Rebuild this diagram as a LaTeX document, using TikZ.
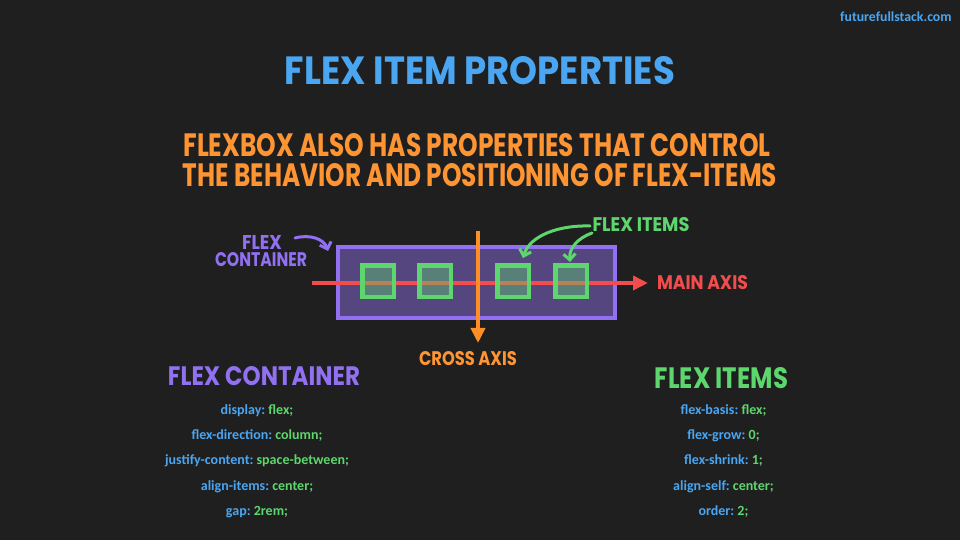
\documentclass[tikz,border=0pt]{standalone}
\usepackage{fontspec}
\usepackage{graphicx}
\usetikzlibrary{arrows.meta}
\newfontfamily\handfont{Poppins}
\newfontfamily\codefont{Carlito}
\definecolor{bg}{HTML}{1F1F1F}
\definecolor{tblue}{HTML}{4AA6F2}
\definecolor{torange}{HTML}{FF9432}
\definecolor{tpurple}{HTML}{9270F2}
\definecolor{cfill}{HTML}{55467F}
\definecolor{tgreen}{HTML}{5ED66E}
\definecolor{tred}{HTML}{F24C4C}
\definecolor{axorange}{HTML}{FF8E26}
% \fitto{width px}{height px}{text}
\newcommand{\fitto}[3]{\resizebox{#1\dimexpr0.5pt\relax}{#2\dimexpr0.5pt\relax}{\handfont\bfseries #3}}
\newcommand{\prop}[2]{{\color{tblue}#1}~{\color{tgreen}#2}}
\tikzset{
  hand/.style={inner sep=0pt, outer sep=0pt},
  container/.style={draw=tpurple, fill=cfill, line width=2.25pt, minimum width=138.5pt, minimum height=35.5pt, inner sep=0pt},
  itembox/.style={draw=tgreen, fill=tgreen, fill opacity=0.4, draw opacity=1, line width=2.25pt, minimum size=15.75pt, inner sep=0pt},
  mainaxis/.style={draw=tred, line width=2pt, -{Triangle[length=7.5pt,width=7pt]}},
  crossaxis/.style={draw=axorange, line width=2pt, -{Triangle[length=7.5pt,width=7pt]}},
  pointer/.style={line width=1.5pt, line cap=round, -{Straight Barb[length=3pt,width=6pt]}},
  codeline/.style={inner sep=0pt, font=\codefont\bfseries\fontsize{7pt}{8pt}\selectfont},
}
\begin{document}
\begin{tikzpicture}[x=0.5pt,y=-0.5pt]
\useasboundingbox (0,0) rectangle (960,540);
\fill[bg] (0,0) rectangle (960,540);

% site
\node[codeline, font=\codefont\bfseries\fontsize{6.9pt}{8pt}\selectfont, text=tblue, anchor=east] (site) at (952,17) {futurefullstack.com};

% titles
\node[hand, text=tblue] (title) at (480,71) {\fitto{390}{28}{FLEX ITEM PROPERTIES}};
\node[hand, text=torange] (sub1) at (477,145) {\fitto{587}{23}{FLEXBOX ALSO HAS PROPERTIES THAT CONTROL}};
\node[hand, text=torange] (sub2) at (480,175.5) {\fitto{594}{23}{THE BEHAVIOR AND POSITIONING OF FLEX-ITEMS}};

% diagram
\node[container] (box) at (476.5,282.5) {};
\coordinate (mainstart) at (312,283);
\coordinate (mainend) at (648,283);
\draw[mainaxis] (mainstart) -- (mainend);
\coordinate (crossstart) at (478,231);
\coordinate (crossend) at (478,343);
\draw[crossaxis] (crossstart) -- (crossend);
\node[itembox] (i1) at (378,281.3) {};
\node[itembox] (i2) at (435,281.3) {};
\node[itembox] (i3) at (513,281.3) {};
\node[itembox] (i4) at (571,281.3) {};

% labels
\node[hand, text=tpurple] (lflex) at (262,242) {\fitto{40}{14}{FLEX}};
\node[hand, text=tpurple] (lcont) at (261,260) {\fitto{92}{14}{CONTAINER}};
\node[hand, text=tgreen] (litems) at (641,225) {\fitto{97}{14}{FLEX ITEMS}};
\node[hand, text=tred] (lmain) at (702.5,283) {\fitto{91}{14}{MAIN AXIS}};
\node[hand, text=torange] (lcross) at (468,359) {\fitto{98}{14}{CROSS AXIS}};

\coordinate (ptc) at (328,251);
\draw[pointer, tpurple] (295,238) .. controls (310,234) and (324,239) .. (ptc);
\coordinate (pt3) at (523,258);
\draw[pointer, tgreen] (590,226) .. controls (560,225) and (530,235) .. (pt3);
\coordinate (pt4) at (570,262);
\draw[pointer, tgreen] (592,233) .. controls (578,238) and (569,248) .. (pt4);

% headings
\node[hand, text=tpurple] (hcont) at (264,376) {\fitto{192}{19}{FLEX CONTAINER}};
\node[hand, text=tgreen] (hitems) at (721.5,378.5) {\fitto{133}{21}{FLEX ITEMS}};

% code left
\node[codeline] (c1) at (257,411) {\prop{display:}{flex;}};
\node[codeline] (c2) at (257,436) {\prop{flex-direction:}{column;}};
\node[codeline] (c3) at (257,461) {\prop{justify-content:}{space-between;}};
\node[codeline] (c4) at (257,487) {\prop{align-items:}{center;}};
\node[codeline] (c5) at (257,512) {\prop{gap:}{2rem;}};

% code right
\node[codeline] (d1) at (723.5,411) {\prop{flex-basis:}{flex;}};
\node[codeline] (d2) at (723.5,436) {\prop{flex-grow:}{0;}};
\node[codeline] (d3) at (723.5,461) {\prop{flex-shrink:}{1;}};
\node[codeline] (d4) at (723.5,487) {\prop{align-self:}{center;}};
\node[codeline] (d5) at (723.5,512) {\prop{order:}{2;}};
\end{tikzpicture}
\end{document}
